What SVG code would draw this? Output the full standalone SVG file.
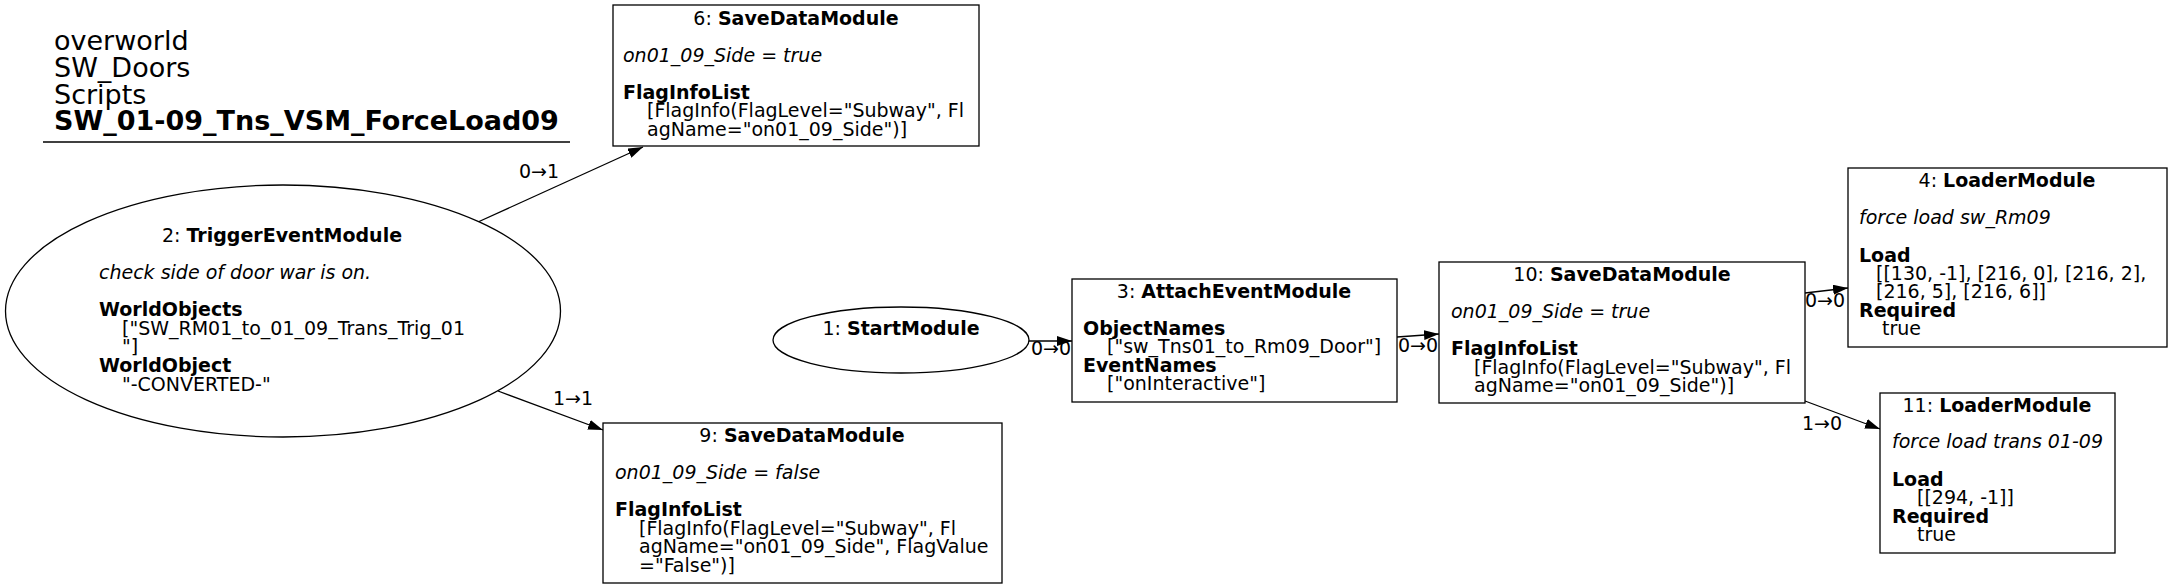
<svg xmlns="http://www.w3.org/2000/svg" width="2172" height="588" viewBox="0 0 2172 588">
<style>
text{font-family:"DejaVu Sans","Liberation Sans",sans-serif;font-size:19px;fill:#000}
.t{font-size:27px}
.b{font-weight:bold}
.i{font-style:italic}
.m{text-anchor:middle}
.n{fill:#fff;stroke:#000;stroke-width:1.3}
.e{fill:none;stroke:#000;stroke-width:1.3;marker-end:url(#a)}
</style>
<defs>
<marker id="a" viewBox="0 0 15 10" refX="15" refY="5" markerWidth="15" markerHeight="10" markerUnits="userSpaceOnUse" orient="auto">
<path d="M0,0L15,5L0,10z" fill="#000"/>
</marker>
</defs>
<rect width="2172" height="588" fill="#fff"/>
<g id="title">
<text class="t" x="54" y="50">overworld</text>
<text class="t" x="54" y="77">SW_Doors</text>
<text class="t" x="54" y="103.5">Scripts</text>
<text class="t b" x="54" y="130">SW_01-09_Tns_VSM_ForceLoad09</text>
<line x1="43" y1="142" x2="570" y2="142" stroke="#000" stroke-width="1.3"/>
</g>
<g id="edges">
<path class="e" d="M478,222L643,147"/>
<path class="e" d="M498,391L603,430"/>
<path class="e" d="M1028,341L1072,341"/>
<path class="e" d="M1397,337L1439,334"/>
<path class="e" d="M1805,293L1848,288"/>
<path class="e" d="M1805,401L1880,429"/>
<text x="519" y="178">0→1</text>
<text x="553" y="405">1→1</text>
<text x="1031" y="355">0→0</text>
<text x="1398" y="352">0→0</text>
<text x="1805" y="307">0→0</text>
<text x="1802" y="430">1→0</text>
</g>
<g id="node2">
<ellipse class="n" cx="283" cy="311" rx="277.5" ry="126"/>
<text class="m" x="282" y="242">2: <tspan class="b">TriggerEventModule</tspan></text>
<text class="i" x="99" y="279">check side of door war is on.</text>
<text class="b" x="99" y="316">WorldObjects</text>
<text x="122" y="335">["SW_RM01_to_01_09_Trans_Trig_01</text>
<text x="122" y="353">"]</text>
<text class="b" x="99" y="372">WorldObject</text>
<text x="122" y="391">"-CONVERTED-"</text>
</g>
<g id="node6">
<rect class="n" x="613" y="5" width="366" height="141"/>
<text class="m" x="796" y="25">6: <tspan class="b">SaveDataModule</tspan></text>
<text class="i" x="623" y="62">on01_09_Side = true</text>
<text class="b" x="623" y="99">FlagInfoList</text>
<text x="647" y="117">[FlagInfo(FlagLevel="Subway", Fl</text>
<text x="647" y="136">agName="on01_09_Side")]</text>
</g>
<g id="node9">
<rect class="n" x="603" y="423" width="399" height="160"/>
<text class="m" x="802" y="442">9: <tspan class="b">SaveDataModule</tspan></text>
<text class="i" x="615" y="479">on01_09_Side = false</text>
<text class="b" x="615" y="516">FlagInfoList</text>
<text x="639" y="534.5">[FlagInfo(FlagLevel="Subway", Fl</text>
<text x="639" y="553">agName="on01_09_Side", FlagValue</text>
<text x="639" y="571.5">="False")]</text>
</g>
<g id="node1">
<ellipse class="n" cx="901" cy="340" rx="128" ry="33"/>
<text class="m" x="901" y="335">1: <tspan class="b">StartModule</tspan></text>
</g>
<g id="node3">
<rect class="n" x="1072" y="279" width="325" height="123"/>
<text class="m" x="1234" y="298">3: <tspan class="b">AttachEventModule</tspan></text>
<text class="b" x="1083" y="335">ObjectNames</text>
<text x="1107" y="353">["sw_Tns01_to_Rm09_Door"]</text>
<text class="b" x="1083" y="372">EventNames</text>
<text x="1107" y="390">["onInteractive"]</text>
</g>
<g id="node10">
<rect class="n" x="1439" y="262" width="366" height="141"/>
<text class="m" x="1622" y="281">10: <tspan class="b">SaveDataModule</tspan></text>
<text class="i" x="1451" y="318">on01_09_Side = true</text>
<text class="b" x="1451" y="355">FlagInfoList</text>
<text x="1474" y="373.5">[FlagInfo(FlagLevel="Subway", Fl</text>
<text x="1474" y="392">agName="on01_09_Side")]</text>
</g>
<g id="node4">
<rect class="n" x="1848" y="168" width="319" height="179"/>
<text class="m" x="2007" y="187">4: <tspan class="b">LoaderModule</tspan></text>
<text class="i" x="1859" y="224">force load sw_Rm09</text>
<text class="b" x="1859" y="262">Load</text>
<text x="1876" y="280">[[130, -1], [216, 0], [216, 2],</text>
<text x="1876" y="298">[216, 5], [216, 6]]</text>
<text class="b" x="1859" y="317">Required</text>
<text x="1882" y="335">true</text>
</g>
<g id="node11">
<rect class="n" x="1880" y="393" width="235" height="160"/>
<text class="m" x="1997" y="412">11: <tspan class="b">LoaderModule</tspan></text>
<text class="i" x="1892" y="448">force load trans 01-09</text>
<text class="b" x="1892" y="486">Load</text>
<text x="1917" y="504">[[294, -1]]</text>
<text class="b" x="1892" y="523">Required</text>
<text x="1917" y="541">true</text>
</g>
</svg>
